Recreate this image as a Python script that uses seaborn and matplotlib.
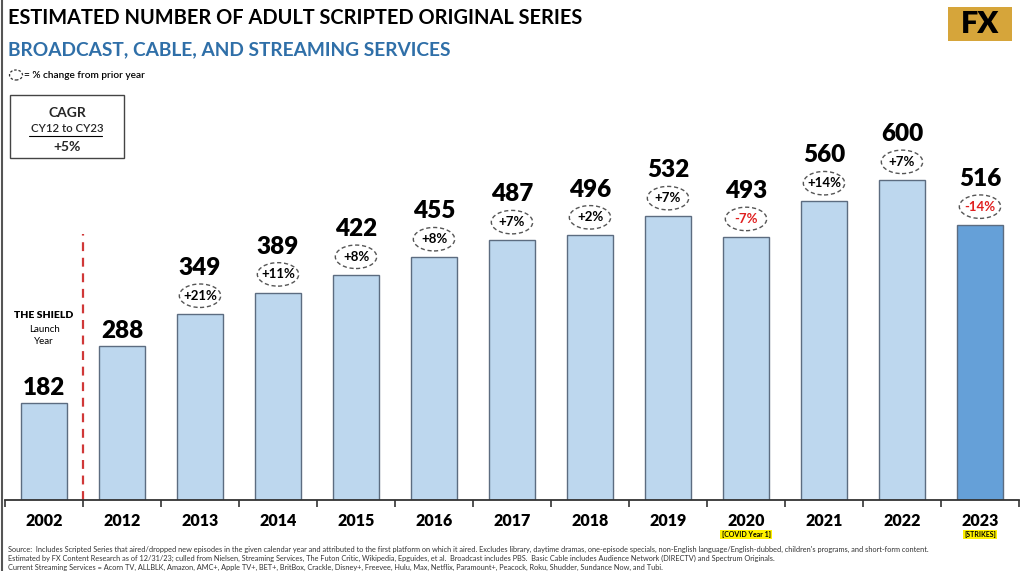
import pandas as pd
import seaborn as sns
import matplotlib.pyplot as plt
from matplotlib.patches import Ellipse, Rectangle
from matplotlib.lines import Line2D

# Chart data
years = ['2002', '2012', '2013', '2014', '2015', '2016', '2017',
         '2018', '2019', '2020', '2021', '2022', '2023']
series = [182, 288, 349, 389, 422, 455, 487, 496, 532, 493, 560, 600, 516]
pct_change = [None, None, '+21%', '+11%', '+8%', '+8%', '+7%',
              '+2%', '+7%', '-7%', '+14%', '+7%', '-14%']
notes = {'2020': '[COVID Year 1]', '2023': '[STRIKES]'}

df = pd.DataFrame({'year': years, 'count': series})

sns.set_theme(style="white")
plt.rcParams['font.family'] = ['Lato', 'DejaVu Sans']

fig = plt.figure(figsize=(10.24, 5.71), dpi=100)
ax = fig.add_axes([5 / 1024, 71 / 571, 1014 / 1024, 400 / 571])

colors = ['#bdd7ee'] * 12 + ['#65a0d8']
sns.barplot(data=df, x='year', y='count', hue='year', palette=colors,
            legend=False, width=0.58, edgecolor='#5c6c80', linewidth=1.0,
            saturation=1, ax=ax)

ax.set_xlim(-0.5, 12.5)
ax.set_ylim(0, 750)
ax.set_xlabel('')
ax.set_ylabel('')
ax.set_yticks([])
for s in ['top', 'right', 'left']:
    ax.spines[s].set_visible(False)
ax.spines['bottom'].set_color('#333333')
ax.spines['bottom'].set_linewidth(1.3)

# boundary ticks below the axis
ax.set_xticks([i - 0.5 for i in range(14)], minor=True)
ax.tick_params(axis='x', which='minor', direction='out', length=5,
               width=1.2, color='#333333', bottom=True)
ax.tick_params(axis='x', which='major', length=0, pad=9)
for lab in ax.get_xticklabels():
    lab.set_fontweight('heavy')
    lab.set_fontsize(11.5)
    lab.set_color('black')

# value labels and % change ellipses
for i, (v, p) in enumerate(zip(series, pct_change)):
    if p is None:
        ax.text(i, v + 28, str(v), ha='center', va='center',
                fontsize=17.5, fontweight='heavy', color='black')
        continue
    ax.add_patch(Ellipse((i, v + 34), 0.53, 44, fill=False,
                         edgecolor='#555555', linestyle=(0, (3, 2)),
                         linewidth=1.0))
    ax.text(i, v + 34, p, ha='center', va='center', fontsize=9.5,
            fontweight='bold', color='#e02020' if p.startswith('-') else 'black')
    ax.text(i, v + 86, str(v), ha='center', va='center',
            fontsize=17.5, fontweight='heavy', color='black')

# The Shield launch marker
ax.plot([0.5, 0.5], [0, 498], color='#d03838', linestyle=(0, (4, 3)),
        linewidth=1.6)
ax.text(0, 345, 'THE SHIELD', ha='center', va='center', fontsize=7.5,
        fontweight='heavy', color='black')
ax.text(0, 320, 'Launch', ha='center', va='center', fontsize=7, color='black')
ax.text(0, 298, 'Year', ha='center', va='center', fontsize=7, color='black')

# notes under year labels
for i, y in enumerate(years):
    if y in notes:
        ax.text(i, -64, notes[y], ha='center', va='center', fontsize=5,
                fontweight='bold', color='black',
                bbox=dict(boxstyle='square,pad=0.15', facecolor='#fff200',
                          edgecolor='none'))

# titles
fig.text(8 / 1024, 1 - 18 / 571, 'ESTIMATED NUMBER OF ADULT SCRIPTED ORIGINAL SERIES',
         ha='left', va='center', fontsize=14.4, fontweight='bold', color='black')
fig.text(8 / 1024, 1 - 50 / 571, 'BROADCAST, CABLE, AND STREAMING SERVICES',
         ha='left', va='center', fontsize=13.8, fontweight='bold', color='#2f6fa8')
fig.patches.append(Ellipse((16 / 1024, 1 - 75 / 571), 13 / 1024, 10 / 571,
                           transform=fig.transFigure, fill=False,
                           edgecolor='#333333', linestyle=(0, (2, 1.5)),
                           linewidth=0.9))
fig.text(24 / 1024, 1 - 75 / 571, '= % change from prior year', ha='left',
         va='center', fontsize=7.3, fontweight='semibold', color='black')

# CAGR box
fig.patches.append(Rectangle((10 / 1024, 1 - 158 / 571), 114 / 1024, 63 / 571,
                             transform=fig.transFigure, fill=False,
                             edgecolor='#444444', linewidth=1.0))
fig.text(67 / 1024, 1 - 113 / 571, 'CAGR', ha='center', va='center',
         fontsize=10, fontweight='bold')
fig.text(67 / 1024, 1 - 129 / 571, 'CY12 to CY23', ha='center', va='center',
         fontsize=8.2, fontweight='semibold')
fig.lines.append(Line2D([29 / 1024, 102 / 1024], [1 - 136 / 571, 1 - 136 / 571],
                        transform=fig.transFigure, color='black', linewidth=0.8))
fig.text(67 / 1024, 1 - 147 / 571, '+5%', ha='center', va='center',
         fontsize=10, fontweight='bold')

# FX logo
fig.patches.append(Rectangle((948 / 1024, 1 - 41 / 571), 64 / 1024, 34 / 571,
                             transform=fig.transFigure, facecolor='#d6a53a',
                             edgecolor='none'))
fig.text(980 / 1024, 1 - 24 / 571, 'FX', ha='center', va='center',
         fontsize=22, fontweight='heavy', color='black')

# slide border
fig.lines.append(Line2D([2 / 1024, 2 / 1024], [0, 1], transform=fig.transFigure,
                        color='#555555', linewidth=1.5))

# source notes
source = [
    "Source:  Includes Scripted Series that aired/dropped new episodes in the given calendar year and attributed to the first platform on which it aired. Excludes library, daytime dramas, one-episode specials, non-English language/English-dubbed, children's programs, and short-form content.",
    "Estimated by FX Content Research as of 12/31/23; culled from Nielsen, Streaming Services, The Futon Critic, Wikipedia, Epguides, et al.  Broadcast includes PBS.  Basic Cable includes Audience Network (DIRECTV) and Spectrum Originals.",
    "Current Streaming Services = Acorn TV, ALLBLK, Amazon, AMC+, Apple TV+, BET+, BritBox, Crackle, Disney+, Freevee, Hulu, Max, Netflix, Paramount+, Peacock, Roku, Shudder, Sundance Now, and Tubi.",
]
for k, line in enumerate(source):
    fig.text(8 / 1024, 1 - (549 + 9 * k) / 571, line, ha='left', va='center',
             fontsize=5.35, color='#333333')

plt.savefig("out.png", dpi=100)
